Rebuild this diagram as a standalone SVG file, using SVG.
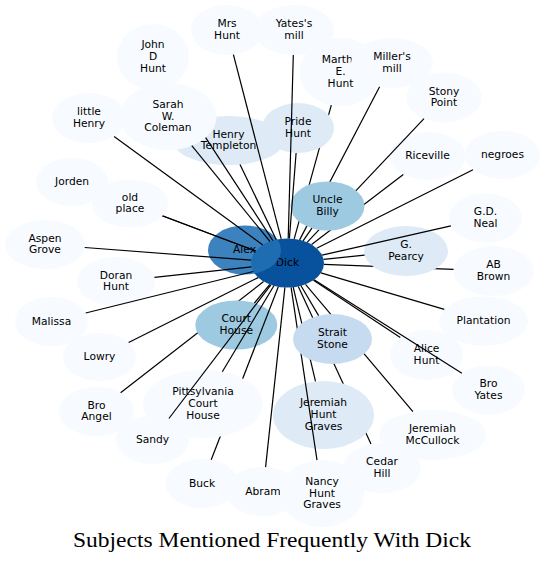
<svg xmlns="http://www.w3.org/2000/svg" width="546" height="563" viewBox="0 0 546 563">
<style>
.n text{font-family:"DejaVu Sans",sans-serif;font-size:10.7px;text-anchor:middle;fill:#000}
.c0{fill:#f7fbff}.c1{fill:#deebf7}.c2{fill:#c6dbef}.c3{fill:#9ecae1}.c6{fill:#2171b5}.c7{fill:#08519c}
#edges line{stroke:#000;stroke-width:1.2;fill:none}
.title{font-family:"Liberation Serif","Times New Roman",serif;font-size:22px;text-anchor:middle;fill:#000}
</style>
<defs>
<mask id="m-old" maskUnits="userSpaceOnUse" x="0" y="0" width="546" height="563"><rect width="546" height="563" fill="#fff"/><ellipse cx="130" cy="203.5" rx="38" ry="24" fill="#000"/></mask>
<mask id="m-court" maskUnits="userSpaceOnUse" x="0" y="0" width="546" height="563"><rect width="546" height="563" fill="#fff"/><ellipse cx="236.3" cy="325" rx="41" ry="24.5" fill="#000"/></mask>
<mask id="m-pitts" maskUnits="userSpaceOnUse" x="0" y="0" width="546" height="563"><rect width="546" height="563" fill="#fff"/><ellipse cx="203" cy="404" rx="60" ry="34" fill="#000"/></mask>
<mask id="m-strait" maskUnits="userSpaceOnUse" x="0" y="0" width="546" height="563"><rect width="546" height="563" fill="#fff"/><ellipse cx="332.5" cy="339" rx="39.5" ry="25" fill="#000"/></mask>
<mask id="m-strait-jhg" maskUnits="userSpaceOnUse" x="0" y="0" width="546" height="563"><rect width="546" height="563" fill="#fff"/><ellipse cx="332.5" cy="339" rx="39.5" ry="25" fill="#000"/><ellipse cx="323.5" cy="415" rx="50.5" ry="34" fill="#000"/></mask>
<mask id="m-pearcy" maskUnits="userSpaceOnUse" x="0" y="0" width="546" height="563"><rect width="546" height="563" fill="#fff"/><ellipse cx="406" cy="251" rx="42" ry="25" fill="#000"/></mask>
<mask id="m-billy" maskUnits="userSpaceOnUse" x="0" y="0" width="546" height="563"><rect width="546" height="563" fill="#fff"/><ellipse cx="327.5" cy="206" rx="37" ry="24.5" fill="#000"/></mask>
<mask id="m-billy-pride" maskUnits="userSpaceOnUse" x="0" y="0" width="546" height="563"><rect width="546" height="563" fill="#fff"/><ellipse cx="327.5" cy="206" rx="37" ry="24.5" fill="#000"/><ellipse cx="298" cy="128" rx="36" ry="25" fill="#000"/></mask>
<mask id="m-sarah" maskUnits="userSpaceOnUse" x="0" y="0" width="546" height="563"><rect width="546" height="563" fill="#fff"/><ellipse cx="168" cy="116.5" rx="48.5" ry="33.5" fill="#000"/></mask>
</defs>
<rect width="546" height="563" fill="#fff"/>
<g id="nodes">
<g id="n-dick" class="n"><ellipse class="c7" cx="287.5" cy="263" rx="36.5" ry="24.5"/><text x="287.5" y="266">Dick</text></g>
<g id="n-alex" class="n"><ellipse class="c6" cx="244.5" cy="250" rx="36.5" ry="24.5" fill-opacity="0.88"/><text x="244.5" y="253">Alex</text></g>
<g id="n-jorden" class="n"><ellipse class="c0" cx="72" cy="182" rx="36" ry="24"/><text x="72" y="185">Jorden</text></g>
<g id="n-oldplace" class="n"><ellipse class="c0" cx="130" cy="203.5" rx="38" ry="24"/><text x="130" y="200.6">old</text><text x="130" y="212.4">place</text></g>
<g id="n-littlehenry" class="n"><ellipse class="c0" cx="89" cy="118" rx="37" ry="25"/><text x="89" y="115.1">little</text><text x="89" y="126.9">Henry</text></g>
<g id="n-aspen" class="n"><ellipse class="c0" cx="45" cy="244.5" rx="40" ry="24.5"/><text x="45" y="241.6">Aspen</text><text x="45" y="253.4">Grove</text></g>
<g id="n-doran" class="n"><ellipse class="c0" cx="116" cy="281.5" rx="39" ry="24.5"/><text x="116" y="278.6">Doran</text><text x="116" y="290.4">Hunt</text></g>
<g id="n-malissa" class="n"><ellipse class="c0" cx="51.5" cy="321.5" rx="36.5" ry="24.5"/><text x="51.5" y="324.5">Malissa</text></g>
<g id="n-lowry" class="n"><ellipse class="c0" cx="99.5" cy="357" rx="36.5" ry="24"/><text x="99.5" y="360">Lowry</text></g>
<g id="n-broangel" class="n"><ellipse class="c0" cx="96.5" cy="411.5" rx="37.5" ry="24.5"/><text x="96.5" y="408.6">Bro</text><text x="96.5" y="420.4">Angel</text></g>
<g id="n-courthouse" class="n"><ellipse class="c3" cx="236.3" cy="325" rx="41" ry="24.5"/><text x="236.3" y="322.1">Court</text><text x="236.3" y="333.9">House</text></g>
<g id="n-buck" class="n"><ellipse class="c0" cx="202" cy="483.5" rx="36.5" ry="24.5"/><text x="202" y="486.5">Buck</text></g>
<g id="n-pitts" class="n"><ellipse class="c0" cx="203" cy="404" rx="60" ry="34"/><text x="203" y="395.2">Pittsylvania</text><text x="203" y="407">Court</text><text x="203" y="418.8">House</text></g>
<g id="n-sandy" class="n"><ellipse class="c0" cx="152.5" cy="440" rx="36.5" ry="24"/><text x="152.5" y="443">Sandy</text></g>
<g id="n-abram" class="n"><ellipse class="c0" cx="263" cy="491.5" rx="37" ry="24.5"/><text x="263" y="494.5">Abram</text></g>
<g id="n-cedar" class="n"><ellipse class="c0" cx="382" cy="468" rx="39" ry="25"/><text x="382" y="465.1">Cedar</text><text x="382" y="476.9">Hill</text></g>
<g id="n-jhg" class="n"><ellipse class="c1" cx="323.5" cy="415" rx="50.5" ry="34"/><text x="323.5" y="406.2">Jeremiah</text><text x="323.5" y="418">Hunt</text><text x="323.5" y="429.8">Graves</text></g>
<g id="n-nancy" class="n"><ellipse class="c0" cx="322" cy="493.5" rx="42" ry="33.5"/><text x="322" y="484.7">Nancy</text><text x="322" y="496.5">Hunt</text><text x="322" y="508.3">Graves</text></g>
<g id="n-jmcc" class="n"><ellipse class="c0" cx="432.5" cy="435" rx="53.5" ry="25"/><text x="432.5" y="432.1">Jeremiah</text><text x="432.5" y="443.9">McCullock</text></g>
<g id="n-strait" class="n"><ellipse class="c2" cx="332.5" cy="339" rx="39.5" ry="25"/><text x="332.5" y="336.1">Strait</text><text x="332.5" y="347.9">Stone</text></g>
<g id="n-alice" class="n"><ellipse class="c0" cx="426.5" cy="355" rx="36.5" ry="25"/><text x="426.5" y="352.1">Alice</text><text x="426.5" y="363.9">Hunt</text></g>
<g id="n-broyates" class="n"><ellipse class="c0" cx="488.5" cy="390" rx="36.5" ry="24.5"/><text x="488.5" y="387.1">Bro</text><text x="488.5" y="398.9">Yates</text></g>
<g id="n-plantation" class="n"><ellipse class="c0" cx="483.5" cy="321" rx="44.5" ry="24.5"/><text x="483.5" y="324">Plantation</text></g>
<g id="n-abbrown" class="n"><ellipse class="c0" cx="493.5" cy="271" rx="40" ry="25"/><text x="493.5" y="268.1">AB</text><text x="493.5" y="279.9">Brown</text></g>
<g id="n-pearcy" class="n"><ellipse class="c1" cx="406" cy="251" rx="42" ry="25"/><text x="406" y="248.1">G.</text><text x="406" y="259.9">Pearcy</text></g>
<g id="n-gdneal" class="n"><ellipse class="c0" cx="485.5" cy="218" rx="36.5" ry="24.5"/><text x="485.5" y="215.1">G.D.</text><text x="485.5" y="226.9">Neal</text></g>
<g id="n-martha" class="n"><ellipse class="c0" cx="340.5" cy="72" rx="41" ry="34"/><text x="340.5" y="63.2">Martha</text><text x="340.5" y="75">E.</text><text x="340.5" y="86.8">Hunt</text></g>
<g id="n-millers" class="n"><ellipse class="c0" cx="392" cy="63" rx="41" ry="25"/><text x="392" y="60.1">Miller's</text><text x="392" y="71.9">mill</text></g>
<g id="n-riceville" class="n"><ellipse class="c0" cx="427.5" cy="156" rx="38" ry="24"/><text x="427.5" y="159">Riceville</text></g>
<g id="n-stony" class="n"><ellipse class="c0" cx="444" cy="97.5" rx="37.5" ry="25"/><text x="444" y="94.6">Stony</text><text x="444" y="106.4">Point</text></g>
<g id="n-negroes" class="n"><ellipse class="c0" cx="502.5" cy="155" rx="37.5" ry="24"/><text x="502.5" y="158">negroes</text></g>
<g id="n-pride" class="n"><ellipse class="c1" cx="298" cy="128" rx="36" ry="25"/><text x="298" y="125.1">Pride</text><text x="298" y="136.9">Hunt</text></g>
<g id="n-billy" class="n"><ellipse class="c3" cx="327.5" cy="206" rx="37" ry="24.5"/><text x="327.5" y="203.1">Uncle</text><text x="327.5" y="214.9">Billy</text></g>
<g id="n-yates" class="n"><ellipse class="c0" cx="294" cy="30" rx="40" ry="25"/><text x="294" y="27.1">Yates's</text><text x="294" y="38.9">mill</text></g>
<g id="n-templeton" class="n"><ellipse class="c1" cx="228.5" cy="140.5" rx="55.5" ry="24.5"/><text x="228.5" y="137.6">Henry</text><text x="228.5" y="149.4">Templeton</text></g>
<g id="n-mrshunt" class="n"><ellipse class="c0" cx="227" cy="30" rx="36" ry="25"/><text x="227" y="27.1">Mrs</text><text x="227" y="38.9">Hunt</text></g>
<g id="n-john" class="n"><ellipse class="c0" cx="153" cy="57" rx="36" ry="33"/><text x="153" y="48.2">John</text><text x="153" y="60">D</text><text x="153" y="71.8">Hunt</text></g>
<g id="n-sarah" class="n"><ellipse class="c0" cx="168" cy="116.5" rx="48.5" ry="33.5"/><text x="168" y="107.7">Sarah</text><text x="168" y="119.5">W.</text><text x="168" y="131.3">Coleman</text></g>
</g>
<g id="edges">
<line x1="103.4" y1="193.8" x2="255.7" y2="251" mask="url(#m-old)"/>
<line x1="162.6" y1="215.8" x2="255.7" y2="251"/>
<line x1="114.1" y1="136.4" x2="262.8" y2="245"/>
<line x1="84.7" y1="247.5" x2="251.2" y2="260.2"/>
<line x1="154.4" y1="277.4" x2="251.5" y2="266.9"/>
<line x1="85.7" y1="313" x2="253.3" y2="271.5"/>
<line x1="128.6" y1="342.5" x2="258.2" y2="277.6"/>
<line x1="120.6" y1="392.7" x2="263.6" y2="281.5" mask="url(#m-court)"/>
<line x1="254.4" y1="303" x2="269.8" y2="284.4"/>
<line x1="211.2" y1="459.8" x2="278.3" y2="286.7" mask="url(#m-pitts)"/>
<line x1="222.3" y1="371.8" x2="273.9" y2="285.7"/>
<line x1="168.9" y1="418.5" x2="270.9" y2="284.8"/>
<line x1="265.6" y1="467.1" x2="284.9" y2="287.4"/>
<line x1="371" y1="444" x2="298.3" y2="286.4" mask="url(#m-strait-jhg)"/>
<line x1="315.5" y1="381.4" x2="293.2" y2="287.2" mask="url(#m-strait)"/>
<line x1="317" y1="460.2" x2="291.1" y2="287.4" mask="url(#m-strait)"/>
<line x1="412.9" y1="411.7" x2="305.5" y2="284.3" mask="url(#m-strait)"/>
<line x1="318.6" y1="315.6" x2="301" y2="285.8"/>
<line x1="400.3" y1="337.6" x2="313.5" y2="280.2"/>
<line x1="461.9" y1="373.2" x2="314.1" y2="279.8"/>
<line x1="444.3" y1="309.4" x2="320.9" y2="272.9"/>
<line x1="453.6" y1="269.4" x2="323.9" y2="264.4" mask="url(#m-pearcy)"/>
<line x1="364.6" y1="255.2" x2="323.6" y2="259.3"/>
<line x1="450.9" y1="225.9" x2="322.1" y2="255.1"/>
<line x1="331.3" y1="105.1" x2="294.2" y2="238.9" mask="url(#m-billy-pride)"/>
<line x1="379.6" y1="86.8" x2="299.6" y2="239.9" mask="url(#m-billy)"/>
<line x1="403.3" y1="174.5" x2="311.6" y2="244.6" mask="url(#m-billy)"/>
<line x1="424" y1="118.6" x2="307.1" y2="242.3" mask="url(#m-billy)"/>
<line x1="473" y1="169.8" x2="316.7" y2="248.3"/>
<line x1="296.1" y1="153" x2="289.4" y2="238.5"/>
<line x1="311.9" y1="228.2" x2="303.1" y2="240.8"/>
<line x1="293.3" y1="55" x2="288.2" y2="238.5"/>
<line x1="240" y1="164.5" x2="276.3" y2="239.7"/>
<line x1="233.4" y1="54.6" x2="281.2" y2="238.9"/>
<line x1="171.5" y1="85.3" x2="272.9" y2="240.6" mask="url(#m-sarah)"/>
<line x1="191.8" y1="145.7" x2="270" y2="241.5"/>
</g>
<text class="title" x="272" y="547" textLength="398" lengthAdjust="spacingAndGlyphs">Subjects Mentioned Frequently With Dick</text>
</svg>
